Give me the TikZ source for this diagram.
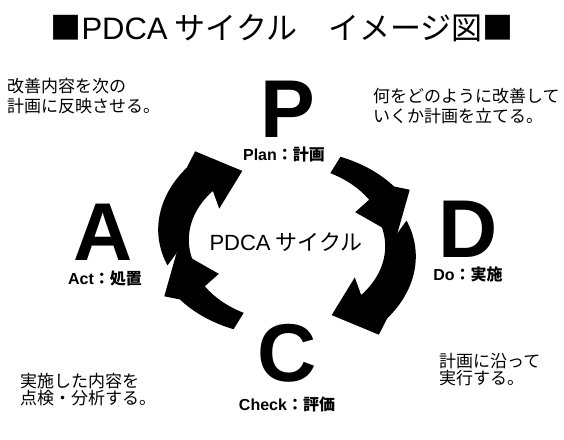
\documentclass[tikz,border=0pt]{standalone}
\usepackage{fontspec}
\setmainfont{Noto Sans CJK JP}
\newfontfamily\lat{Liberation Sans}
\newcommand\pdcapair{%
  % arrow of type A (left -> top)
  \fill[arr] ({287+109*1.13*cos(194)},{243-82*1.13*sin(194)})
    -- plot[domain=194:135, samples=30, variable=\t]
       ({287+109*(1.13+0.17*(194-\t)/59)*cos(\t)},{243-82*(1.13+0.17*(194-\t)/59)*sin(\t)})
    -- ({287+109*1.40*cos(127)},{243-82*1.40*sin(127)})
    -- ({287+109*0.97*cos(115)},{243-82*0.97*sin(115)})
    -- ({287+109*0.75*cos(146)},{243-82*0.75*sin(146)})
    -- plot[domain=137:194, samples=30, variable=\t]
       ({287+109*(0.93-0.04*(\t-137)/57)*cos(\t)},{243-82*(0.93-0.04*(\t-137)/57)*sin(\t)})
    -- ({287+109*1.01*cos(186)},{243-82*1.01*sin(186)})
    -- cycle;
  % arrow of type B (top -> right)
  \fill[arr] ({287+109*1.16*cos(65)},{243-82*1.16*sin(65)})
    -- plot[domain=65:35, samples=30, variable=\t]
       ({287+109*(1.16+0.04*(65-\t)/30)*cos(\t)},{243-82*(1.16+0.04*(65-\t)/30)*sin(\t)})
    -- ({287+109*1.30*cos(30)},{243-82*1.30*sin(30)})
    -- ({287+109*1.01*cos(5)},{243-82*1.01*sin(5)})
    -- ({287+109*0.73*cos(31)},{243-82*0.73*sin(31)})
    -- plot[domain=35:65, samples=30, variable=\t]
       ({287+109*(0.92+0.02*(\t-35)/30)*cos(\t)},{243-82*(0.92+0.02*(\t-35)/30)*sin(\t)})
    -- cycle;
}
\begin{document}
\begin{tikzpicture}[x=1pt,y=-1pt,
  arr/.style={fill=black},
  body/.style={anchor=base west, inner sep=0pt, font=\fontsize{17}{20}\selectfont},
  big/.style={anchor=base, inner sep=0pt, text depth=0pt, text height=59pt,
              font=\lat\bfseries\fontsize{82}{82}\selectfont},
  lab/.style={anchor=base, inner sep=0pt, text height=12pt, text depth=1pt,
              font=\bfseries\fontsize{16}{18}\selectfont}]
\useasboundingbox[fill=white] (0,0) rectangle (564,439);

% title
\node[anchor=base, inner sep=0pt, font=\fontsize{31}{33}\selectfont] (title) at (282,39)
  {■{\lat PDCA} サイクル　イメージ図■};

% cycle arrows
\pdcapair
\begin{scope}[rotate around={180:(287,243)}]
\pdcapair
\end{scope}

% centre text
\node[anchor=base, inner sep=0pt, font=\fontsize{22}{24}\selectfont] (centre) at (286,250)
  {{\lat PDCA} サイクル};

% big letters
\node[big] (P) at (288,137) {P};
\node[big] (D) at (468,257) {D};
\node[big] (A) at (103,260) {A};
\node[big] (C) at (287,381) {C};

% labels
\node[lab] (Plab) at (284,160) {{\lat Plan}：計画};
\node[lab] (Dlab) at (468,280) {{\lat Do}：実施};
\node[lab] (Alab) at (105,284) {{\lat Act}：処置};
\node[lab] (Clab) at (287,410) {{\lat Check}：評価};

% descriptions
\node[body] (tl1) at (7,92) {改善内容を次の};
\node[body] (tl2) at (7,112) {計画に反映させる。};
\node[body] (tr1) at (373,102) {何をどのように改善して};
\node[body] (tr2) at (373,122) {いくか計画を立てる。};
\node[body] (bl1) at (20,387) {実施した内容を};
\node[body] (bl2) at (20,404) {点検・分析する。};
\node[body] (br1) at (439,367) {計画に沿って};
\node[body] (br2) at (439,384) {実行する。};
\end{tikzpicture}
\end{document}
